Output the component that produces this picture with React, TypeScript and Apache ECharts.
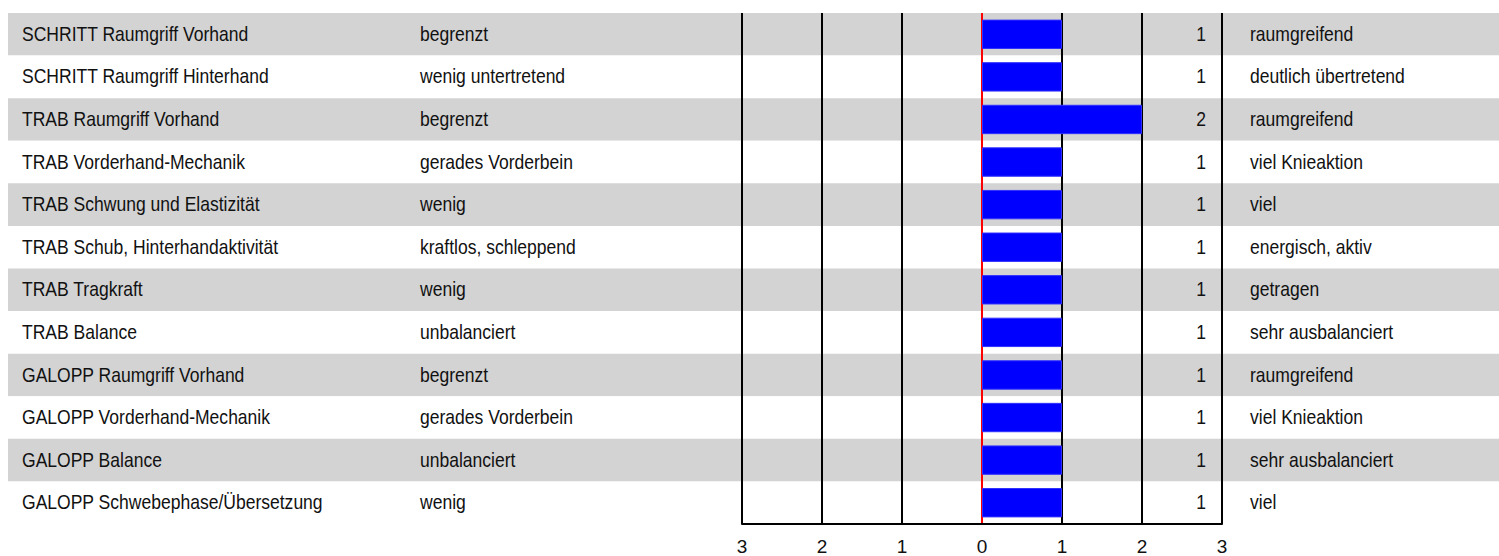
import React, { useEffect, useRef } from "react";
import * as echarts from "echarts";

const criteria = [
  "SCHRITT Raumgriff Vorhand",
  "SCHRITT Raumgriff Hinterhand",
  "TRAB Raumgriff Vorhand",
  "TRAB Vorderhand-Mechanik",
  "TRAB Schwung und Elastizität",
  "TRAB Schub, Hinterhandaktivität",
  "TRAB Tragkraft",
  "TRAB Balance",
  "GALOPP Raumgriff Vorhand",
  "GALOPP Vorderhand-Mechanik",
  "GALOPP Balance",
  "GALOPP Schwebephase/Übersetzung",
];

const lowLabels = [
  "begrenzt",
  "wenig untertretend",
  "begrenzt",
  "gerades Vorderbein",
  "wenig",
  "kraftlos, schleppend",
  "wenig",
  "unbalanciert",
  "begrenzt",
  "gerades Vorderbein",
  "unbalanciert",
  "wenig",
];

const highLabels = [
  "raumgreifend",
  "deutlich übertretend",
  "raumgreifend",
  "viel Knieaktion",
  "viel",
  "energisch, aktiv",
  "getragen",
  "sehr ausbalanciert",
  "raumgreifend",
  "viel Knieaktion",
  "sehr ausbalanciert",
  "viel",
];

const scores = [1, 1, 2, 1, 1, 1, 1, 1, 1, 1, 1, 1];

const scaleMin = -3;
const scaleMax = 3;

const FONT = "'Liberation Sans', Arial, sans-serif";
const TEXT = "#111111";
const FS = 21;
const NARROW = 0.835;

export default function App() {
  const ref = useRef<HTMLDivElement>(null);

  useEffect(() => {
    if (!ref.current) return;
    const chart = echarts.init(ref.current, undefined, { renderer: "svg" });
    const gridTop = 13;
    const gridBottom = 32;

    const txt = (text: string, x: number, y: number, align: string) => ({
      type: "text",
      x,
      y: y - 1,
      scaleX: NARROW,
      scaleY: 1,
      style: {
        text,
        x: 0,
        y: 0,
        fill: TEXT,
        fontSize: FS,
        fontFamily: FONT,
        align,
        verticalAlign: "middle",
      },
    });

    chart.setOption({
      animation: false,
      textStyle: { fontFamily: FONT },
      grid: [
        { left: 742, right: 277, top: gridTop, bottom: gridBottom },
        { left: 8, right: 0, top: gridTop, bottom: gridBottom },
      ],
      xAxis: [
        {
          type: "value",
          gridIndex: 0,
          min: scaleMin,
          max: scaleMax,
          interval: 1,
          z: 1,
          axisLine: { show: true, onZero: false, lineStyle: { color: "#000", width: 2 } },
          axisTick: { show: false },
          axisLabel: {
            color: TEXT,
            fontSize: 19,
            fontFamily: FONT,
            margin: 13,
            formatter: (v: number) => String(Math.abs(v)),
          },
          splitLine: {
            show: true,
            showMinLine: true,
            showMaxLine: true,
            lineStyle: {
              width: 2,
              color: ["#000", "#000", "#000", "#ff0000", "#000", "#000", "#000"],
            },
          },
        },
        {
          type: "value",
          gridIndex: 1,
          min: 0,
          max: 1,
          show: false,
        },
      ],
      yAxis: [
        {
          type: "category",
          gridIndex: 0,
          inverse: true,
          data: criteria,
          z: 1,
          axisLine: { show: false },
          axisTick: { show: false },
          axisLabel: { show: false },
          splitLine: { show: false },
        },
        {
          type: "category",
          gridIndex: 1,
          inverse: true,
          data: criteria,
          z: 0,
          axisLine: { show: false },
          axisTick: { show: false },
          axisLabel: { show: false },
          splitLine: { show: false },
          splitArea: {
            show: true,
            areaStyle: { color: ["#d3d3d3", "#ffffff"] },
          },
        },
      ],
      series: [
        {
          type: "bar",
          xAxisIndex: 0,
          yAxisIndex: 0,
          data: scores,
          barWidth: "69%",
          z: 5,
          itemStyle: { color: "#0000ff", borderColor: "#3030ff", borderWidth: 1 },
        },
        {
          type: "custom",
          xAxisIndex: 0,
          yAxisIndex: 0,
          clip: false,
          z: 6,
          silent: true,
          data: criteria.map((_, i) => [0, i]),
          encode: { x: 0, y: 1 },
          renderItem: (params: any, api: any) => {
            const i = params.dataIndex;
            const y = api.coord([0, i])[1];
            const xMax = api.coord([scaleMax, i])[0];
            return {
              type: "group",
              children: [
                txt(criteria[i], 22, y, "left"),
                txt(lowLabels[i], 420, y, "left"),
                txt(String(scores[i]), xMax - 16, y, "right"),
                txt(highLabels[i], xMax + 28, y, "left"),
              ],
            };
          },
        },
      ],
    });
    return () => chart.dispose();
  }, []);

  return (
    <div
      ref={ref}
      style={{ position: "fixed", left: 0, top: 0, width: 1499, height: 556, background: "#fff" }}
    />
  );
}
